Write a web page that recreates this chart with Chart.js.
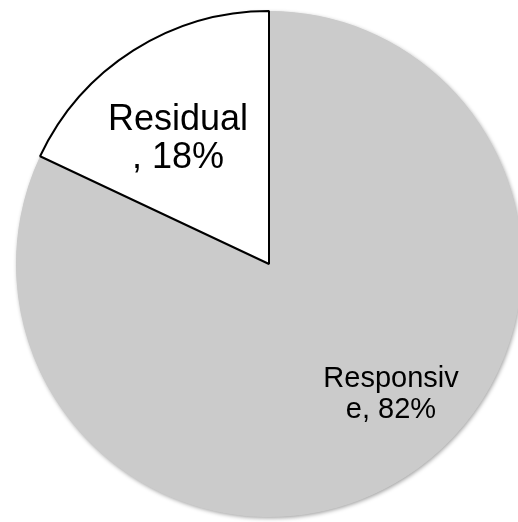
<!DOCTYPE html>
<html>
<head>
<meta charset="utf-8">
<script src="https://cdn.jsdelivr.net/npm/chart.js@4/dist/chart.umd.min.js"></script>
<style>
  html, body { margin: 0; padding: 0; background: #fff; overflow: hidden; }
  #pie { display: block; }
</style>
</head>
<body>
<canvas id="pie" width="540" height="522"></canvas>
<script>
const categories = ["Responsive", "Residual"];
const shares = [82, 18];
// where each slice label wraps onto its second line (character index)
const wrapAt = [9, 8];

// label placement around the pie centre: canvas angle (deg) and fraction of radius
const labelPlace = [
  { angle: 46.3, dist: 0.698, size: 29, lineHeight: 31 },
  { angle: -125.5, dist: 0.619, size: 36, lineHeight: 38 },
];

const sliceLabels = {
  id: "sliceLabels",
  afterDatasetsDraw(chart) {
    const ctx = chart.ctx;
    const arcs = chart.getDatasetMeta(0).data;
    ctx.save();
    ctx.fillStyle = "#000";
    ctx.textAlign = "center";
    ctx.textBaseline = "alphabetic";
    arcs.forEach((arc, i) => {
      const p = labelPlace[i];
      const text = categories[i] + ", " + shares[i] + "%";
      const lines = [text.slice(0, wrapAt[i]), text.slice(wrapAt[i])];
      const a = (p.angle * Math.PI) / 180;
      const cx = arc.x + Math.cos(a) * arc.outerRadius * p.dist;
      const cy = arc.y + Math.sin(a) * arc.outerRadius * p.dist;
      const capH = p.size * 0.716;
      const top = cy - (capH + p.lineHeight) / 2;
      ctx.font = p.size + 'px "Liberation Sans", Arial, sans-serif';
      lines.forEach((ln, k) => {
        ctx.fillText(ln, cx, top + capH + k * p.lineHeight);
      });
    });
    ctx.restore();
  },
};

// soft rim under the whole pie
const pieShadow = {
  id: "pieShadow",
  beforeDatasetsDraw(chart) {
    const arc = chart.getDatasetMeta(0).data[0];
    if (!arc) return;
    const ctx = chart.ctx;
    ctx.save();
    ctx.shadowColor = "rgba(0,0,0,0.4)";
    ctx.shadowBlur = 4;
    ctx.shadowOffsetX = 1;
    ctx.shadowOffsetY = 1.5;
    ctx.fillStyle = "#cbcbcb";
    ctx.beginPath();
    ctx.arc(arc.x, arc.y, arc.outerRadius - 0.5, 0, Math.PI * 2);
    ctx.fill();
    ctx.restore();
  },
};

new Chart(document.getElementById("pie"), {
  type: "pie",
  data: {
    labels: categories,
    datasets: [
      {
        data: shares,
        backgroundColor: ["#cbcbcb", "#ffffff"],
        borderColor: ["#cbcbcb", "#000000"],
        borderWidth: [0, 2],
      },
    ],
  },
  options: {
    responsive: false,
    animation: false,
    radius: 253,
    layout: { padding: { left: 16, right: 18, top: 11, bottom: 5 } },
    plugins: {
      legend: { display: false },
      tooltip: { enabled: false },
    },
  },
  plugins: [pieShadow, sliceLabels],
});
</script>
</body>
</html>
